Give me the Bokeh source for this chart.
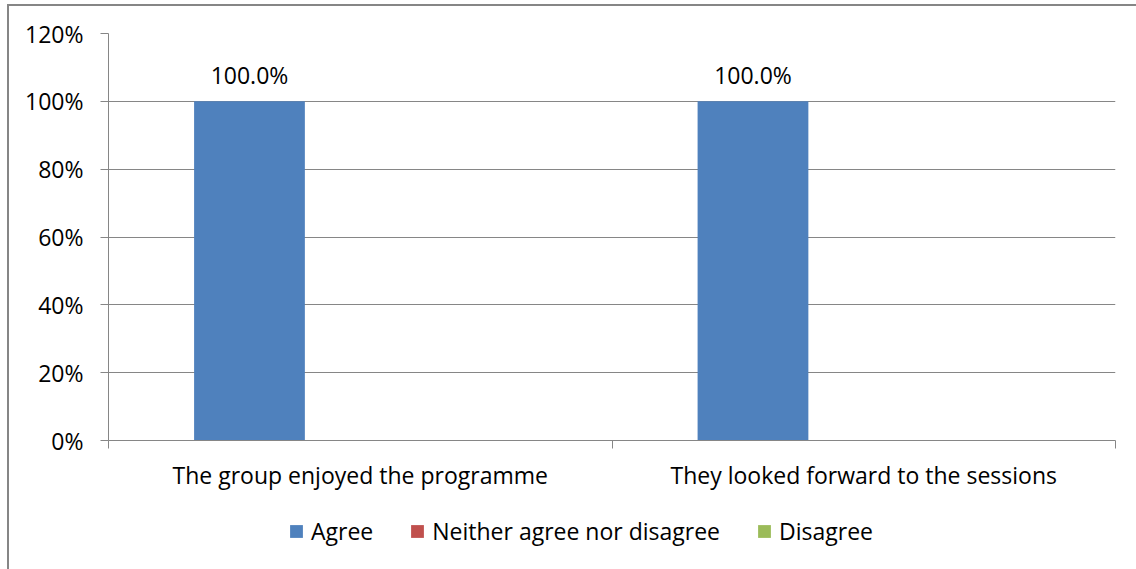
from bokeh.plotting import figure
from bokeh.models import (Range1d, FixedTicker, NumeralTickFormatter, Legend, LegendItem,
                          ColumnDataSource, LabelSet)
from bokeh.layouts import column
from bokeh.core.properties import value
from bokeh.transform import dodge
from bokeh.embed import file_html
from bokeh.resources import INLINE

categories = ["The group enjoyed the programme", "They looked forward to the sessions"]
series_names = ["Agree", "Neither agree nor disagree", "Disagree"]
agree = [1.0, 1.0]
neither = [0.0, 0.0]
disagree = [0.0, 0.0]
colors = ["#4F81BD", "#C0504D", "#9BBB59"]
y_ticks = [0, 0.2, 0.4, 0.6, 0.8, 1.0, 1.2]

FONT = "Open Sans"
FS = "23px"
GRID = "#868686"

x_pos = [i + 0.5 for i in range(len(categories))]
src = ColumnDataSource(dict(x=x_pos, agree=agree, neither=neither, disagree=disagree,
                            label=[f"{v*100:.1f}%" for v in agree]))

# children start at page (9, 6): column margin (7, 4) + 2px CSS border
p = figure(width=1127, height=490, output_backend="svg", toolbar_location=None,
           x_range=Range1d(0, len(categories)), y_range=Range1d(0, 1.2),
           min_border_left=99, min_border_right=21, min_border_top=27, min_border_bottom=56)
p.outline_line_color = None
p.background_fill_color = "white"
p.border_fill_color = "white"

bw = 0.22
for k, (name, col) in enumerate(zip(["agree", "neither", "disagree"], colors)):
    p.vbar(x=dodge("x", (k - 1) * bw, range=p.x_range), top=name, width=bw,
           bottom=0, source=src, fill_color=col, line_color=None)

labels = LabelSet(x=dodge("x", -bw, range=p.x_range), y="agree", text="label", source=src,
                  text_align="center", text_baseline="alphabetic", y_offset=17,
                  text_font=value(FONT), text_font_size=value(FS), text_color="black")
p.add_layout(labels)

# y axis
p.yaxis.ticker = FixedTicker(ticks=y_ticks)
p.yaxis.formatter = NumeralTickFormatter(format="0%")
p.yaxis.major_label_text_font = FONT
p.yaxis.major_label_text_font_size = FS
p.yaxis.major_label_text_color = "black"
p.yaxis.axis_line_color = GRID
p.yaxis.major_tick_line_color = GRID
p.yaxis.major_tick_out = 8
p.yaxis.major_tick_in = 0
p.yaxis.minor_tick_line_color = None
p.yaxis.major_label_standoff = 17

# x axis
p.xaxis.ticker = FixedTicker(ticks=x_pos, minor_ticks=list(range(len(categories) + 1)))
p.xaxis.major_label_overrides = {x: c for x, c in zip(x_pos, categories)}
p.xaxis.major_label_text_font = FONT
p.xaxis.major_label_text_font_size = FS
p.xaxis.major_label_text_color = "black"
p.xaxis.axis_line_color = GRID
p.xaxis.major_tick_line_color = None
p.xaxis.major_tick_out = 0
p.xaxis.minor_tick_line_color = GRID
p.xaxis.minor_tick_out = 8
p.xaxis.minor_tick_in = 0
p.xaxis.major_label_standoff = 10

p.xgrid.grid_line_color = None
p.ygrid.grid_line_color = GRID
p.ygrid.ticker = FixedTicker(ticks=y_ticks)

# legend strip (separate figure so the legend is not clipped); its frame aligns with p's frame
pl = figure(width=1127, height=73, output_backend="svg", toolbar_location=None,
            x_range=Range1d(0, len(categories)), y_range=Range1d(0, 1),
            min_border=0, min_border_left=0, min_border_right=0, min_border_top=0, min_border_bottom=0)
pl.axis.visible = False
pl.grid.visible = False
pl.outline_line_color = None
pl.background_fill_color = "white"
pl.border_fill_color = "white"
# zero-height proxies: only their legend swatches are visible
leg_renderers = [pl.vbar(x="x", top=0, bottom=0, width=bw, source=src, fill_color=c, line_color=None)
                 for c in colors]

legend = Legend(items=[LegendItem(label=n, renderers=[r]) for n, r in zip(series_names, leg_renderers)],
                orientation="horizontal", location=(180, 22),
                label_text_font=FONT, label_text_font_size=FS, label_text_color="black",
                glyph_width=16, glyph_height=16, label_standoff=7, spacing=36,
                padding=0, margin=0, border_line_color=None, background_fill_alpha=0)
pl.add_layout(legend)

layout = column(p, pl, spacing=0)
layout.margin = (4, 0, 0, 7)
layout.styles = {"border-left": "2px solid #868686", "border-top": "2px solid #868686"}

open("out.html", "w").write(file_html(layout, INLINE))
